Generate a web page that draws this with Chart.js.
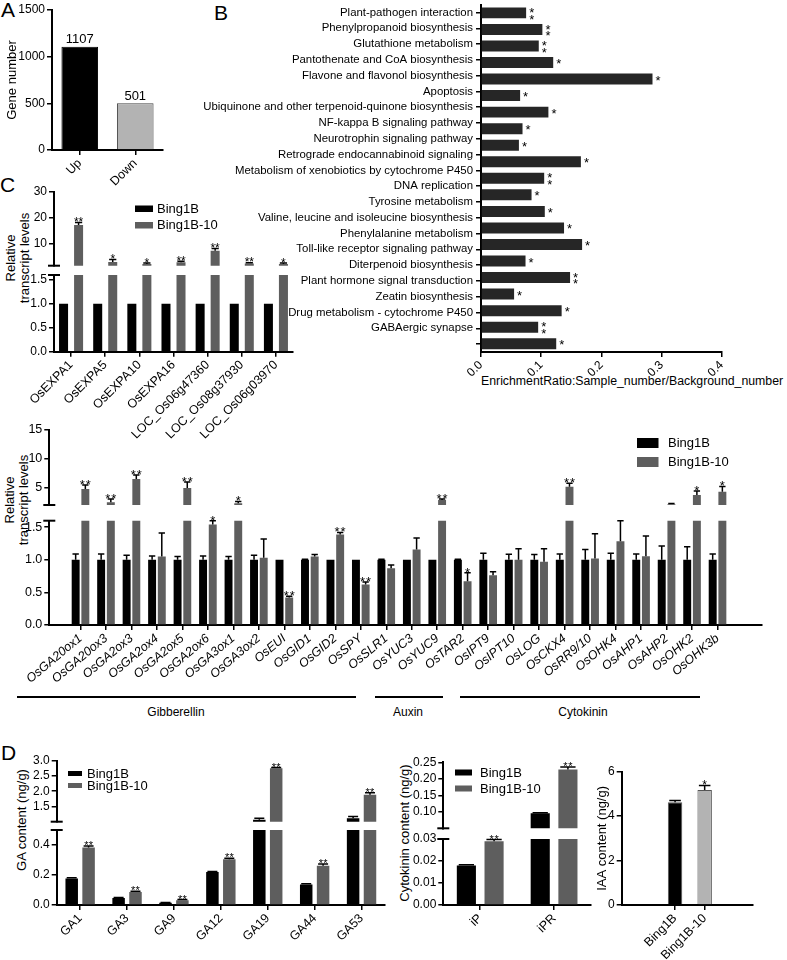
<!DOCTYPE html>
<html lang="en">
<head>
  <meta charset="UTF-8" />
  <title>Bing1B vs Bing1B-10</title>
  <script src="https://cdn.jsdelivr.net/npm/chart.js"></script>
  <style>
    body { margin: 0; background: #fff; }
    #fig {
      position: relative; width: 787px; height: 960px; overflow: hidden;
      font-family: 'Liberation Sans', Arial, sans-serif; color: #000;
    }
    #fig canvas { position: absolute; }
    .letter { position: absolute; font-size: 21px; line-height: 1; }
    .vtitle {
      position: absolute; font-size: 13px; line-height: 14px; text-align: center;
      white-space: nowrap; transform: translate(-50%, -50%) rotate(-90deg);
    }
    .htitle { position: absolute; font-size: 12.3px; line-height: 14px; white-space: nowrap; }
    .bracket { position: absolute; height: 0; border-top: 2px solid #000; }
    .group { position: absolute; font-size: 12px; line-height: 14px; transform: translateX(-50%); white-space: nowrap; }
  </style>
</head>
<body>
<div id="fig">
  <div class="letter" style="left:1px;top:-1px">A</div>
  <div class="letter" style="left:214px;top:2px">B</div>
  <div class="letter" style="left:0px;top:174px">C</div>
  <div class="letter" style="left:1px;top:742px">D</div>

  <div class="htitle" style="left:481px;top:374px">EnrichmentRatio:Sample_number/Background_number</div>
  <div class="vtitle" style="left:18px;top:258px">Relative<br>transcript levels</div>
  <div class="vtitle" style="left:17px;top:500px">Relative<br>transcript levels</div>
  <div class="vtitle" style="left:22px;top:820px">GA content (ng/g)</div>
  <div class="vtitle" style="left:405px;top:833px">Cytokinin content (ng/g)</div>

  <div class="bracket" style="left:17px;top:696px;width:339px"></div>
  <div class="bracket" style="left:375px;top:696px;width:68px"></div>
  <div class="bracket" style="left:460px;top:696px;width:240px"></div>
  <div class="group" style="left:176px;top:705px">Gibberellin</div>
  <div class="group" style="left:408px;top:705px">Auxin</div>
  <div class="group" style="left:583px;top:705px">Cytokinin</div>
</div>

<script>
  // ---------- data ----------
  const seriesNames = ['Bing1B', 'Bing1B-10'];

  // A: number of differentially expressed genes
  const degTypes = ['Up', 'Down'];
  const degCounts = [1107, 501];
  const degTicks = [0, 500, 1000, 1500];

  // B: KEGG enrichment (the axis has one more tick than there are bars)
  const pathways = [
    'Plant-pathogen interaction',
    'Phenylpropanoid biosynthesis',
    'Glutathione metabolism',
    'Pantothenate and CoA biosynthesis',
    'Flavone and flavonol biosynthesis',
    'Apoptosis',
    'Ubiquinone and other terpenoid-quinone biosynthesis',
    'NF-kappa B signaling pathway',
    'Neurotrophin signaling pathway',
    'Retrograde endocannabinoid signaling',
    'Metabolism of xenobiotics by cytochrome P450',
    'DNA replication',
    'Tyrosine metabolism',
    'Valine, leucine and isoleucine biosynthesis',
    'Phenylalanine metabolism',
    'Toll-like receptor signaling pathway',
    'Diterpenoid biosynthesis',
    'Plant hormone signal transduction',
    'Zeatin biosynthesis',
    'Drug metabolism - cytochrome P450',
    'GABAergic synapse',
    ''
  ];
  const enrichRatio = [0.075, 0.102, 0.096, 0.120, 0.285, 0.065, 0.112, 0.069, 0.063, 0.166, 0.105,
                       0.084, 0.106, 0.138, 0.168, 0.074, 0.148, 0.055, 0.134, 0.095, 0.125];
  const enrichSig = ['**', '**', '**', '*', '*', '*', '*', '*', '*', '*', '**',
                     '*', '*', '*', '*', '*', '**', '*', '*', '**', '*'];
  const enrichTicks = [0, 0.1, 0.2, 0.3, 0.4];

  // C: expansin genes
  const expaGenes = ['OsEXPA1', 'OsEXPA5', 'OsEXPA10', 'OsEXPA16', 'LOC_Os06g47360', 'LOC_Os08g37930', 'LOC_Os06g03970'];
  const expaBing1B = [1, 1, 1, 1, 1, 1, 1];
  const expaBing1BErr = [0, 0, 0, 0, 0, 0, 0];
  const expaBing1B10 = [17.2, 3.0, 2.3, 2.9, 7.3, 2.4, 2.3];
  const expaBing1B10Err = [1.0, 1.0, 0.3, 0.4, 0.9, 0.3, 0.3];
  const expaSig = ['**', '*', '*', '**', '**', '**', '*'];
  const expaTopTicks = [10, 20, 30];
  const expaLowTicks = [0, 0.5, 1.0, 1.5];

  // hormone pathway genes
  const hormoneGenes = ['OsGA20ox1', 'OsGA20ox3', 'OsGA2ox3', 'OsGA2ox4', 'OsGA2ox5', 'OsGA2ox6', 'OsGA3ox1',
    'OsGA3ox2', 'OsEUI', 'OsGID1', 'OsGID2', 'OsSPY', 'OsSLR1', 'OsYUC3', 'OsYUC9', 'OsTAR2', 'OsIPT9',
    'OsIPT10', 'OsLOG', 'OsCKX4', 'OsRR9/10', 'OsOHK4', 'OsAHP1', 'OsAHP2', 'OsOHK2', 'OsOHK3b'];
  const hormoneBing1B = [1, 1, 1, 1, 1, 1, 1, 1, 1, 1, 1, 1, 1, 1, 1, 1, 1, 1, 1, 1, 1, 1, 1, 1, 1, 1];
  const hormoneBing1BErr = [0.09, 0.09, 0.07, 0.06, 0.05, 0.06, 0.05, 0.07, 0, 0.01, 0, 0, 0.01,
                            0, 0, 0.01, 0.1, 0.085, 0.08, 0.09, 0.16, 0.1, 0.09, 0.21, 0.2, 0.09];
  const hormoneBing1B10 = [4.78, 2.47, 6.5, 1.05, 4.95, 1.54, 2.3, 1.03, 0.42, 1.05, 1.39, 0.62, 0.87,
                           1.16, 2.85, 0.67, 0.765, 1.0, 0.97, 5.18, 1.02, 1.285, 1.055, 2.15, 3.74, 4.3];
  const hormoneBing1B10Err = [0.7, 0.55, 0.7, 0.36, 1.05, 0.06, 0.3, 0.29, 0.02, 0.03, 0.03, 0.04, 0.05,
                              0.175, 0.2, 0.13, 0.05, 0.17, 0.2, 0.6, 0.38, 0.315, 0.31, 0.1, 0.7, 0.9];
  const hormoneSig = ['**', '**', '**', '', '**', '*', '*', '', '**', '', '**', '**', '',
                      '', '**', '*', '', '', '', '**', '', '', '', '', '*', '*'];
  const hormoneTopTicks = [5, 10, 15];
  const hormoneLowTicks = [0, 0.5, 1.0, 1.5];

  // D: hormone contents
  const gaTypes = ['GA1', 'GA3', 'GA9', 'GA12', 'GA19', 'GA44', 'GA53'];
  const gaBing1B = [0.177, 0.047, 0.015, 0.22, 1.06, 0.137, 1.11];
  const gaBing1BErr = [0.004, 0.003, 0.002, 0.003, 0.05, 0.004, 0.06];
  const gaBing1B10 = [0.383, 0.086, 0.032, 0.305, 2.75, 0.262, 1.88];
  const gaBing1B10Err = [0.01, 0.005, 0.004, 0.007, 0.03, 0.012, 0.07];
  const gaSig = ['**', '**', '**', '**', '**', '**', '**'];
  const gaTopTicks = [1.5, 2.0, 2.5, 3.0];
  const gaLowTicks = [0, 0.1, 0.2, 0.3, 0.4, 0.5];

  const ckTypes = ['iP', 'iPR'];
  const ckBing1B = [0.018, 0.0955];
  const ckBing1BErr = [0.0003, 0.002];
  const ckBing1B10 = [0.029, 0.228];
  const ckBing1B10Err = [0.0008, 0.008];
  const ckSig = ['**', '**'];
  const ckTopTicks = [0.10, 0.15, 0.20, 0.25];
  const ckLowTicks = [0, 0.01, 0.02, 0.03];

  const iaaLines = ['Bing1B', 'Bing1B-10'];
  const iaaContent = [4.62, 5.18];
  const iaaErr = [0.08, 0.2];
  const iaaSig = ['', '*'];
  const iaaTicks = [0, 2, 4, 6];

  // ---------- style ----------
  const FONT = "'Liberation Sans', Arial, sans-serif";
  const BLACK = '#000000', GRAY = '#5e5e5e', LIGHT = '#b3b3b3';

  Chart.defaults.font.family = FONT;
  Chart.defaults.font.size = 12;
  Chart.defaults.color = '#000';
  Chart.defaults.animation = false;
  Chart.defaults.responsive = false;
  Chart.defaults.plugins.legend.display = false;
  Chart.defaults.plugins.tooltip.enabled = false;

  const fig = document.getElementById('fig');
  function makeCanvas(box) {
    const cv = document.createElement('canvas');
    cv.width = box[2];
    cv.height = box[3];
    cv.style.left = box[0] + 'px';
    cv.style.top = box[1] + 'px';
    fig.appendChild(cv);
    return cv;
  }
  const tickMarks = () => ({ drawOnChartArea: false, offset: false, color: '#000', lineWidth: 1.5, tickLength: 5 });
  const axisBorder = () => ({ color: '#000', width: 2 });

  // significance stars, drawn one by one so that "**" keeps a small gap
  function drawStars(ctx, s, x, bottom, size, gap) {
    ctx.font = size + 'px ' + FONT;
    ctx.textAlign = 'center';
    ctx.textBaseline = 'alphabetic';
    const n = s.length;
    for (let k = 0; k < n; k++) {
      ctx.fillText('*', x + (k - (n - 1) / 2) * gap, bottom + 0.42 * size);
    }
  }

  // error bars, stars, axis-break marks and legend boxes
  const barMarks = {
    id: 'barMarks',
    afterDatasetsDraw(chart, args, o) {
      const { ctx, chartArea: a } = chart;
      const ys = chart.scales.y;
      const [ox, oy] = o.origin;
      ctx.save();
      chart.data.datasets.forEach((ds, di) => {
        chart.getDatasetMeta(di).data.forEach((bar, i) => {
          const v = ds.vals[i], e = ds.err ? ds.err[i] : 0;
          if (v < ys.min - 1e-9 || v > ys.max + 1e-9) return;
          const reach = v + e <= ys.max + 1e-9;
          const y0 = ys.getPixelForValue(v);
          const y1 = ys.getPixelForValue(Math.min(v + e, ys.max));
          if (e > 0) {
            const half = bar.width * o.cap;
            ctx.strokeStyle = '#000';
            ctx.lineWidth = 1.5;
            ctx.beginPath();
            ctx.moveTo(bar.x, y0);
            ctx.lineTo(bar.x, y1);
            if (reach) { ctx.moveTo(bar.x - half, y1); ctx.lineTo(bar.x + half, y1); }
            ctx.stroke();
          }
          const s = ds.sig && ds.sig[i];
          if (s && reach) {
            ctx.fillStyle = '#000';
            drawStars(ctx, s, bar.x, y1 - 1.5, o.sigSize, o.sigGap);
          }
        });
      });
      if (o.brk) {
        const yb = o.brk === 'top' ? a.top : a.bottom;
        ctx.strokeStyle = '#000';
        ctx.lineWidth = 2;
        ctx.beginPath();
        ctx.moveTo(a.left - 6, yb);
        ctx.lineTo(a.left + 6, yb);
        ctx.stroke();
      }
      if (o.legend) {
        const L = o.legend;
        L.items.forEach((it, k) => {
          const top = L.y + k * L.dy - oy;
          ctx.fillStyle = it.color;
          ctx.fillRect(L.x - ox, top, L.w, L.h);
          ctx.fillStyle = '#000';
          ctx.font = '13px ' + FONT;
          ctx.textAlign = 'left';
          ctx.textBaseline = 'middle';
          ctx.fillText(it.text, L.x - ox + L.tx, top + L.h / 2 + 0.5);
        });
      }
      ctx.restore();
    }
  };

  // one segment of a grouped bar chart; box and area are page coordinates
  function groupedBars(cfg) {
    const [bx, by, W, H] = cfg.box;
    const cv = makeCanvas(cfg.box);
    const L = cfg.area[0] - bx, T = cfg.area[1] - by, R = cfg.area[2] - bx, B = cfg.area[3] - by;
    const linear = Boolean(cfg.xRange);
    const rot = cfg.rotation || 45;

    const x = {
      display: Boolean(cfg.showX),
      grid: tickMarks(),
      border: axisBorder(),
      ticks: { autoSkip: false, minRotation: rot, maxRotation: rot, padding: 1, font: cfg.xFont || { size: 12.5 } }
    };
    if (linear) {
      x.type = 'linear';
      x.min = cfg.xRange[0];
      x.max = cfg.xRange[1];
      x.afterBuildTicks = s => { s.ticks = cfg.labels.map((_, i) => ({ value: i })); };
      x.ticks.callback = v => cfg.labels[v];
    } else {
      x.type = 'category';
      x.offset = true;
    }
    if (cfg.showX) x.afterFit = s => { s.height = H - B; };

    const y = {
      type: 'linear',
      min: cfg.min,
      max: cfg.max,
      grid: tickMarks(),
      border: axisBorder(),
      ticks: { padding: 2, font: { size: cfg.tickSize || 12 }, callback: v => v.toFixed(cfg.dec) },
      afterBuildTicks: s => { s.ticks = cfg.yTicks.map(v => ({ value: v })); },
      afterFit: s => { s.width = L; }
    };
    if (cfg.yTitle) {
      y.title = { display: true, text: cfg.yTitle, font: { size: 13 }, padding: { top: cfg.yTitlePad, bottom: 0 } };
    }

    return new Chart(cv, {
      type: 'bar',
      data: {
        labels: linear ? undefined : cfg.labels,
        datasets: cfg.sets.map(s => ({
          label: s.name,
          data: linear ? s.data.map((v, i) => ({ x: i, y: v })) : s.data,
          vals: s.data,
          err: s.err,
          sig: s.sig,
          backgroundColor: s.color,
          borderColor: s.edge || s.color,
          borderWidth: s.edge ? 1 : 0,
          categoryPercentage: cfg.cp,
          barPercentage: cfg.bp,
          clip: 0
        }))
      },
      options: {
        layout: { padding: { left: 0, top: T, right: W - R, bottom: cfg.showX ? 0 : H - B } },
        scales: { x, y },
        plugins: {
          barMarks: {
            origin: [bx, by], brk: cfg.brk, legend: cfg.legend, cap: cfg.cap || 0.4,
            sigSize: cfg.sigSize || 12, sigGap: cfg.sigGap || 5
          }
        }
      },
      plugins: [barMarks]
    });
  }

  const pairSets = (a, aErr, b, bErr, sig) => [
    { name: seriesNames[0], data: a, err: aErr, color: BLACK },
    { name: seriesNames[1], data: b, err: bErr, sig: sig, color: GRAY }
  ];
  const pairLegend = (x, y, w, h, dy, tx) => ({
    x, y, w, h, dy, tx,
    items: [{ text: seriesNames[0], color: BLACK }, { text: seriesNames[1], color: GRAY }]
  });

  // ---------- A ----------
  const valueLabels = {
    id: 'valueLabels',
    afterDatasetsDraw(chart) {
      const ctx = chart.ctx;
      ctx.save();
      ctx.font = '13px ' + FONT;
      ctx.fillStyle = '#000';
      ctx.textAlign = 'center';
      ctx.textBaseline = 'alphabetic';
      chart.getDatasetMeta(0).data.forEach((bar, i) => {
        ctx.fillText(String(chart.data.datasets[0].data[i]), bar.x, bar.y - 3.5);
      });
      ctx.restore();
    }
  };
  new Chart(makeCanvas([0, 0, 175, 190]), {
    type: 'bar',
    data: {
      labels: degTypes,
      datasets: [{
        data: degCounts,
        backgroundColor: [BLACK, LIGHT],
        borderColor: ['#000', '#444'],
        borderWidth: 1,
        categoryPercentage: 1,
        barPercentage: 0.66
      }]
    },
    options: {
      layout: { padding: { left: 0, top: 10, right: 12, bottom: 0 } },
      scales: {
        x: {
          offset: true, grid: tickMarks(), border: axisBorder(),
          ticks: { minRotation: 45, maxRotation: 45, padding: 1, font: { size: 12.5 } },
          afterFit: s => { s.height = 40; }
        },
        y: {
          min: 0, max: 1500, grid: tickMarks(), border: axisBorder(),
          afterBuildTicks: s => { s.ticks = degTicks.map(v => ({ value: v })); },
          ticks: { padding: 2, font: { size: 12 }, callback: v => String(v) },
          title: { display: true, text: 'Gene number', font: { size: 13 }, padding: { top: 5, bottom: 0 } },
          afterFit: s => { s.width = 52; }
        }
      }
    },
    plugins: [valueLabels]
  });

  // ---------- B ----------
  const starMarks = {
    id: 'starMarks',
    afterDatasetsDraw(chart) {
      const ctx = chart.ctx, fs = 13;
      ctx.save();
      ctx.fillStyle = '#000';
      ctx.font = fs + 'px ' + FONT;
      ctx.textAlign = 'left';
      ctx.textBaseline = 'alphabetic';
      const star = (x, yc) => ctx.fillText('*', x, yc + 0.58 * fs);
      chart.getDatasetMeta(0).data.forEach((bar, i) => {
        const x = bar.x + 3;
        if (enrichSig[i] === '**') { star(x, bar.y - 3.4); star(x, bar.y + 3.4); }
        else star(x, bar.y - 2);
      });
      ctx.restore();
    }
  };
  new Chart(makeCanvas([200, -6, 587, 401]), {
    type: 'bar',
    data: {
      datasets: [{
        data: enrichRatio, yAxisID: 'yb', backgroundColor: '#262626',
        categoryPercentage: 0.8, barPercentage: 0.83, clip: 0
      }]
    },
    options: {
      indexAxis: 'y',
      layout: { padding: { left: 0, top: 10.6, right: 65.3, bottom: 0 } },
      scales: {
        x: {
          type: 'linear', min: 0, max: 0.4, grid: tickMarks(), border: axisBorder(),
          afterBuildTicks: s => { s.ticks = enrichTicks.map(v => ({ value: v })); },
          ticks: { callback: v => v.toFixed(1), minRotation: 45, maxRotation: 45, padding: 1, font: { size: 12 } },
          afterFit: s => { s.height = 43; }
        },
        y: {
          type: 'category', labels: pathways, offset: true, position: 'left',
          grid: tickMarks(), border: axisBorder(),
          ticks: { autoSkip: false, padding: 3, font: { size: 11.4 } },
          afterFit: s => { s.width = 281; }
        },
        yb: {
          axis: 'y', type: 'category', position: 'left', display: false, offset: true,
          labels: enrichRatio.map((_, i) => i)
        }
      }
    },
    plugins: [starMarks]
  });

  // ---------- C ----------
  const expaSets = pairSets(expaBing1B, expaBing1BErr, expaBing1B10, expaBing1B10Err, expaSig);
  groupedBars({
    box: [0, 180, 320, 96], area: [54, 191.7, 293, 265.7],
    labels: expaGenes, sets: expaSets, min: 1.6, max: 30, yTicks: expaTopTicks, dec: 0,
    cp: 0.88, bp: 0.6, brk: 'bottom', sigSize: 12, sigGap: 4.5,
    legend: pairLegend(135, 205.5, 18, 6.5, 16.5, 22)
  });
  groupedBars({
    box: [0, 262, 320, 180], area: [54, 275, 293, 351.7],
    labels: expaGenes, sets: expaSets, min: 0, max: 1.6, yTicks: expaLowTicks, dec: 1,
    cp: 0.88, bp: 0.6, brk: 'top', showX: true, sigSize: 12, sigGap: 4.5
  });

  // ---------- hormone genes ----------
  const hormoneSets = pairSets(hormoneBing1B, hormoneBing1BErr, hormoneBing1B10, hormoneBing1B10Err, hormoneSig);
  const hormoneRange = [-0.687, 26.196];
  groupedBars({
    box: [0, 418, 787, 97], area: [49.3, 430, 761.7, 505],
    labels: hormoneGenes, sets: hormoneSets, xRange: hormoneRange, min: 2, max: 15,
    yTicks: hormoneTopTicks, dec: 0, tickSize: 12.5, cp: 0.76, bp: 0.82, brk: 'bottom', sigSize: 13, sigGap: 6,
    legend: pairLegend(637, 438, 21.5, 10, 19, 31)
  });
  groupedBars({
    box: [0, 508, 787, 215], area: [49.3, 520.7, 761.7, 625],
    labels: hormoneGenes, sets: hormoneSets, xRange: hormoneRange, min: 0, max: 1.6,
    yTicks: hormoneLowTicks, dec: 1, tickSize: 12.5, cp: 0.76, bp: 0.82, brk: 'top', showX: true,
    rotation: 40, xFont: { style: 'italic', size: 12.5 }, sigSize: 13, sigGap: 6
  });

  // ---------- D: GA ----------
  const gaSets = pairSets(gaBing1B, gaBing1BErr, gaBing1B10, gaBing1B10Err, gaSig);
  groupedBars({
    box: [0, 748, 390, 84], area: [56.7, 760.7, 385, 821.7],
    labels: gaTypes, sets: gaSets, min: 1.0, max: 3.0, yTicks: gaTopTicks, dec: 1,
    cp: 0.72, bp: 0.74, brk: 'bottom', sigSize: 11, sigGap: 4.5,
    legend: pairLegend(68, 771, 14, 5, 12, 19)
  });
  groupedBars({
    box: [0, 818, 390, 142], area: [56.7, 830, 385, 905],
    labels: gaTypes, sets: gaSets, min: 0, max: 0.5, yTicks: gaLowTicks, dec: 1,
    cp: 0.72, bp: 0.74, brk: 'top', showX: true, sigSize: 11, sigGap: 4.5
  });

  // ---------- D: cytokinin ----------
  const ckSets = pairSets(ckBing1B, ckBing1BErr, ckBing1B10, ckBing1B10Err, ckSig);
  groupedBars({
    box: [380, 748, 225, 90], area: [443.3, 762.3, 591, 828.3],
    labels: ckTypes, sets: ckSets, min: 0.05, max: 0.25, yTicks: ckTopTicks, dec: 2,
    cp: 0.75, bp: 0.69, brk: 'bottom', sigSize: 11, sigGap: 5,
    legend: pairLegend(455, 769.5, 17, 6, 16, 25)
  });
  groupedBars({
    box: [380, 826, 225, 134], area: [443.3, 839, 591, 905],
    labels: ckTypes, sets: ckSets, min: 0, max: 0.03, yTicks: ckLowTicks, dec: 2,
    cp: 0.75, bp: 0.69, brk: 'top', showX: true, sigSize: 11, sigGap: 5
  });

  // ---------- D: IAA ----------
  groupedBars({
    box: [590, 750, 197, 210], area: [621.7, 771.7, 753, 905],
    labels: iaaLines, xRange: [-0.694, 1.524], min: 0, max: 6, yTicks: iaaTicks, dec: 0,
    cp: 0.8, bp: 0.61, showX: true, sigSize: 12,
    yTitle: 'IAA content (ng/g)', yTitlePad: 4.5,
    sets: [{ name: 'IAA', data: iaaContent, err: iaaErr, sig: iaaSig, color: [BLACK, LIGHT], edge: ['#555', '#555'] }]
  });
</script>
</body>
</html>
